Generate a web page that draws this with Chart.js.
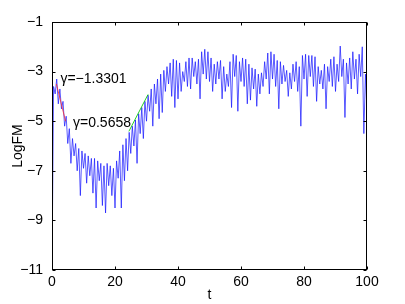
<!DOCTYPE html>
<html><head><meta charset="utf-8">
<script src="https://cdn.jsdelivr.net/npm/chart.js@4"></script>
<style>html,body{margin:0;padding:0;background:#fff}#wrap{width:405px;height:304px}</style>
</head><body><div id="wrap"><canvas id="c" width="405" height="304"></canvas></div>
<script>
// sampling step of the time axis
const tStep = 0.5;
// LogFM, t = 0, 0.5, 1, ... 100
const logFM = [
  -11, -3.6, -3.9, -3.3, -4.3, -3.7, -4.5, -4.2, -5.2, -4.8,
  -5.9, -5.3, -6.7, -5.7, -6.4, -5.9, -7.0, -6.1, -8.0, -6.2,
  -6.9, -6.3, -7.5, -6.4, -7.2, -6.5, -7.9, -6.5, -8.5, -6.6,
  -7.4, -6.7, -8.4, -6.8, -8.7, -6.7, -7.6, -6.8, -8.0, -6.9,
  -8.5, -6.6, -7.3, -6.2, -8.5, -5.95, -7.4, -5.7, -7.0, -5.45,
  -6.3, -5.2, -6.0, -4.95, -6.7, -4.7, -5.5, -4.45, -5.7, -4.2,
  -5.0, -3.95, -4.6, -3.7, -5.2, -3.5, -4.3, -3.3, -4.9, -3.1,
  -4.65, -2.95, -3.8, -2.8, -3.5, -2.65, -4.0, -2.5, -4.45, -2.55,
  -4.1, -2.65, -3.8, -3.0, -3.4, -2.6, -3.6, -2.45, -3.7, -2.45,
  -3.2, -2.6, -3.5, -2.5, -4.1, -2.2, -3.1, -2.1, -3.3, -2.2,
  -3.4, -2.45, -3.8, -2.7, -3.5, -2.6, -3.3, -2.55, -4.1, -2.8,
  -3.8, -3.1, -3.6, -2.6, -4.45, -2.3, -3.2, -2.35, -4.6, -2.6,
  -3.4, -2.45, -3.6, -2.5, -4.3, -2.7, -4.15, -2.85, -3.7, -2.9,
  -4.4, -3.1, -3.9, -3.05, -3.6, -2.6, -3.3, -2.25, -3.9, -2.2,
  -3.3, -2.3, -3.6, -2.55, -4.5, -2.6, -3.5, -2.75, -3.4, -2.95,
  -4.0, -3.05, -3.7, -2.7, -3.4, -2.6, -3.8, -2.8, -5.2, -2.35,
  -3.3, -2.3, -4.0, -2.35, -3.2, -2.35, -3.6, -2.4, -4.2, -2.8,
  -3.5, -2.95, -3.7, -2.7, -4.5, -2.8, -3.4, -2.5, -3.6, -2.4,
  -3.8, -2.7, -3.4, -1.97, -3.2, -2.5, -4.85, -2.65, -3.5, -2.45,
  -3.7, -2.2, -3.3, -2.5, -3.9, -2.3, -3.2, -2.0, -5.5, -3.1,
  -4.6
];
// fitted growth-rate segments
const fitRedT = [1.4, 4.3];
const fitRedY = [-3.5, -5.0];
const fitGreenT = [24.4, 30.5];
const fitGreenY = [-5.41, -3.92];
// annotations
const gammaLabels = ['\u03b3=\u22121.3301', '\u03b3=0.5658'];
const gammaT = [2.67, 6.67];
const gammaY = [-3.32, -5.07];
// ticks
const xTicks = [0, 20, 40, 60, 80, 100];
const yTicks = [-11, -9, -7, -5, -3, -1];

const FONT = '"Liberation Sans", Arial, Helvetica, sans-serif';
const mainData = logFM.map((v, i) => ({x: i * tStep, y: v}));
const redData = fitRedT.map((t, i) => ({x: t, y: fitRedY[i]}));
const greenData = fitGreenT.map((t, i) => ({x: t, y: fitGreenY[i]}));

const fmt = v => (v < 0 ? '\u2212' + Math.abs(v) : String(v));

const framePlugin = {
  id: 'frame',
  afterDatasetsDraw(chart) {
    const {ctx, chartArea: a, scales: {x, y}} = chart;
    ctx.save();
    ctx.strokeStyle = '#000';
    ctx.lineWidth = 1;
    const L = Math.round(a.left) + 0.5, R = Math.round(a.right) - 0.5;
    const T = Math.round(a.top) + 0.5, B = Math.round(a.bottom) - 0.5;
    ctx.beginPath();
    xTicks.forEach(v => {
      const px = Math.round(x.getPixelForValue(v)) + 0.5;
      ctx.moveTo(px, B); ctx.lineTo(px, B - 3);
      ctx.moveTo(px, T); ctx.lineTo(px, T + 3);
    });
    yTicks.forEach(v => {
      const py = Math.round(y.getPixelForValue(v)) + 0.5;
      ctx.moveTo(L, py); ctx.lineTo(L + 3, py);
      ctx.moveTo(R, py); ctx.lineTo(R - 3, py);
    });
    ctx.stroke();
    ctx.strokeRect(L, T, R - L, B - T);
    ctx.fillStyle = '#000';
    ctx.font = '14px ' + FONT;
    ctx.textAlign = 'left';
    ctx.textBaseline = 'middle';
    gammaLabels.forEach((s, i) => {
      ctx.fillText(s, x.getPixelForValue(gammaT[i]), y.getPixelForValue(gammaY[i]));
    });
    ctx.restore();
  }
};

new Chart(document.getElementById('c'), {
  type: 'line',
  data: {
    datasets: [
      {data: redData, borderColor: 'rgba(255,40,40,0.8)', borderWidth: 1, pointRadius: 0, order: 0},
      {data: greenData, borderColor: 'rgba(0,200,0,0.85)', borderWidth: 1, pointRadius: 0, order: 0},
      {data: mainData, borderColor: 'rgba(20,20,255,0.7)', borderWidth: 1, pointRadius: 0, tension: 0, order: 1}
    ]
  },
  options: {
    responsive: false,
    animation: false,
    devicePixelRatio: 1,
    layout: {padding: {left: 0, right: 38, top: 22, bottom: 0}},
    plugins: {legend: {display: false}, tooltip: {enabled: false}},
    scales: {
      x: {
        type: 'linear', min: 0, max: 100,
        afterBuildTicks: s => { s.ticks = xTicks.map(v => ({value: v})); },
        afterFit: s => { s.height = 34; },
        grid: {display: false, drawTicks: false},
        border: {display: false},
        ticks: {color: '#000', font: {family: FONT, size: 14}, padding: 4, maxRotation: 0, callback: fmt},
        title: {display: true, text: 't', color: '#000', font: {family: FONT, size: 14}, padding: {top: 0, bottom: 0}}
      },
      y: {
        type: 'linear', min: -11, max: -1,
        afterBuildTicks: s => { s.ticks = yTicks.map(v => ({value: v})); },
        afterFit: s => { s.width = 52; },
        grid: {display: false, drawTicks: false},
        border: {display: false},
        ticks: {color: '#000', font: {family: FONT, size: 14}, padding: 9, callback: fmt},
        title: {display: true, text: 'LogFM', color: '#000', font: {family: FONT, size: 14}, padding: {top: 10, bottom: 0}}
      }
    }
  },
  plugins: [framePlugin]
});
</script>
</body></html>
